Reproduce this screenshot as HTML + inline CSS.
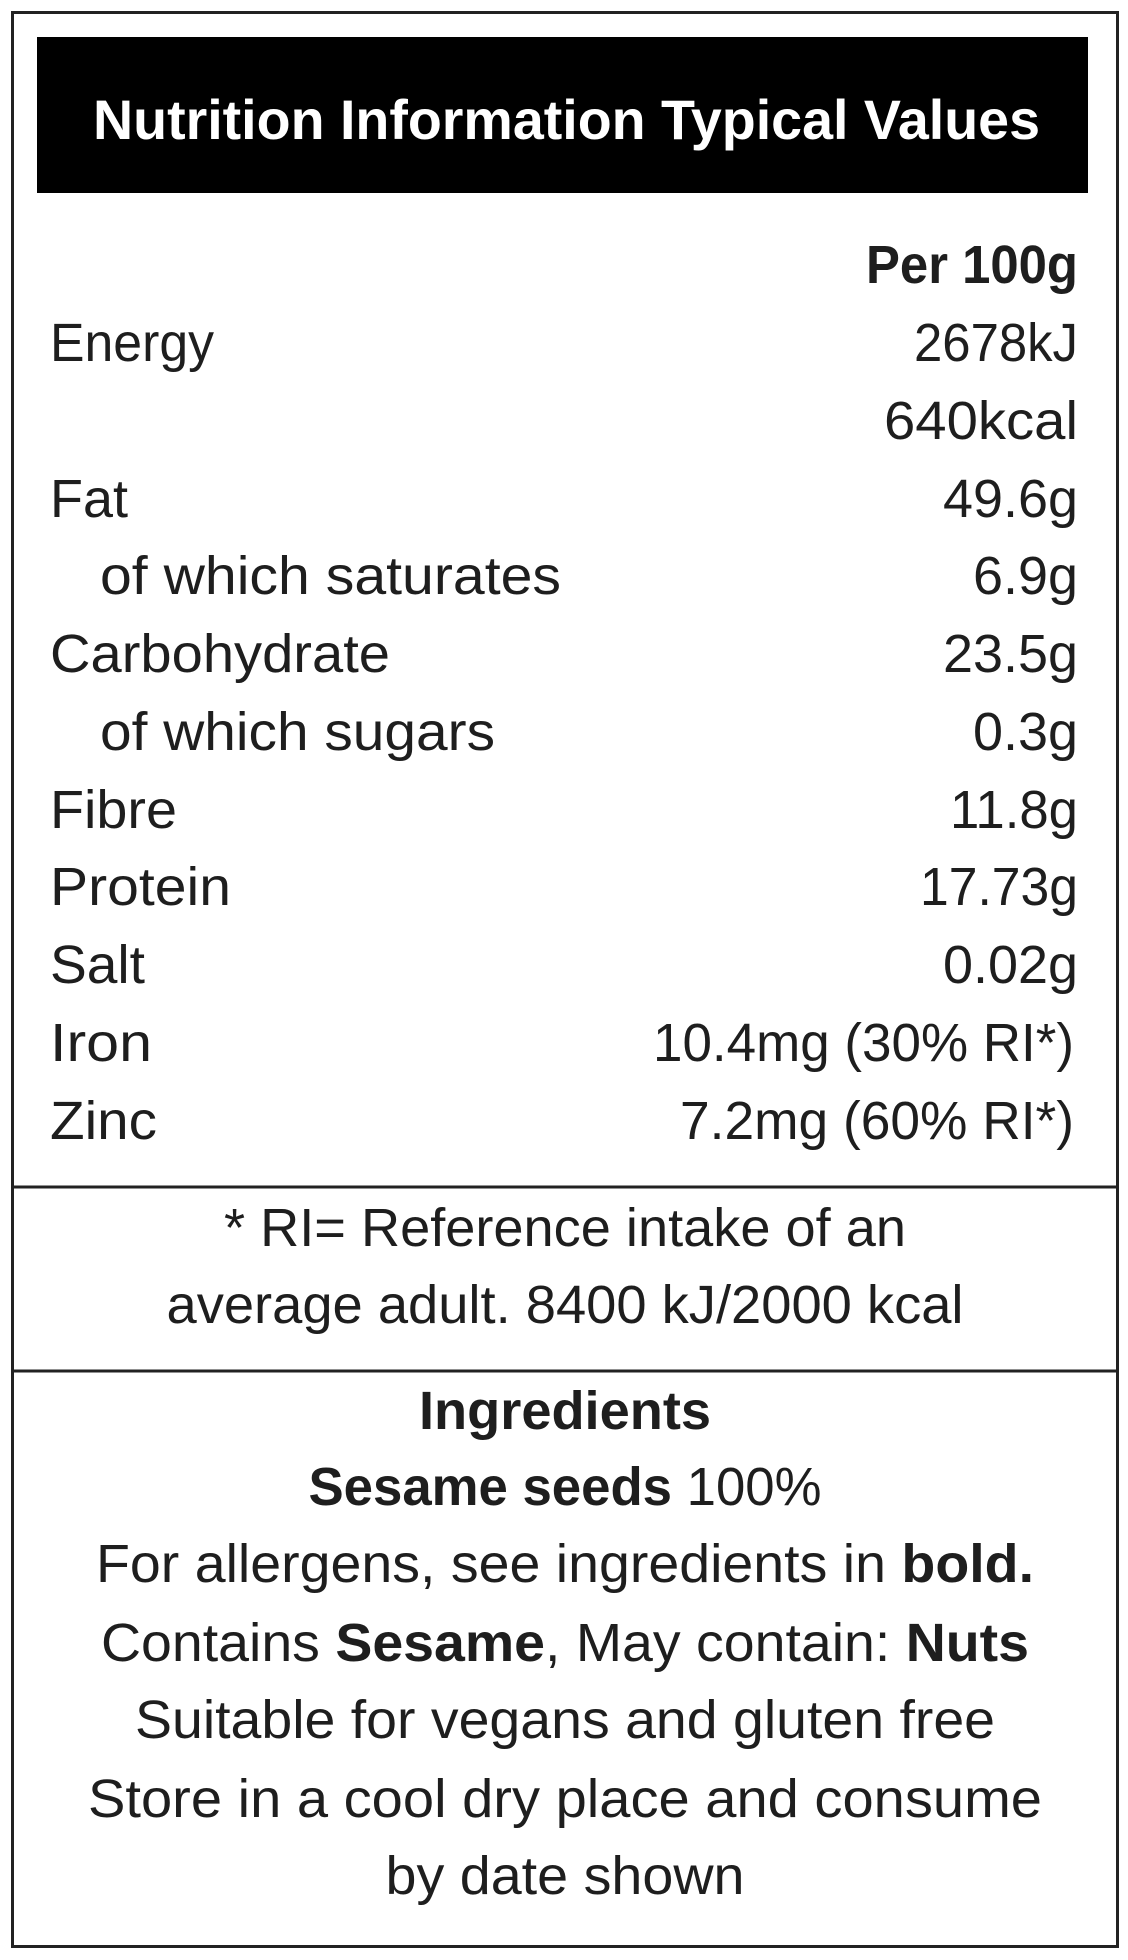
<!DOCTYPE html>
<html><head><meta charset="utf-8"><style>html,body{margin:0;padding:0;background:#fff}svg{display:block}</style></head><body>
<svg width="1128" height="1960" viewBox="0 0 1128 1960" xmlns="http://www.w3.org/2000/svg" font-family="Liberation Sans, sans-serif" fill="#1e1e1e">
<rect x="0" y="0" width="1128" height="1960" fill="#fff"/>
<rect x="12.5" y="12.5" width="1105" height="1934" fill="none" stroke="#222" stroke-width="3"/>
<rect x="37" y="37" width="1051" height="156" fill="#000"/>
<text x="93" y="139" font-size="56" font-weight="bold" fill="#fff" textLength="947" lengthAdjust="spacingAndGlyphs">Nutrition Information Typical Values</text>
<g font-size="54">
<text x="1078" y="283" text-anchor="end" font-weight="bold" textLength="212" lengthAdjust="spacingAndGlyphs">Per 100g</text>
<text x="50" y="361" textLength="164" lengthAdjust="spacingAndGlyphs">Energy</text>
<text x="1078" y="361" text-anchor="end" textLength="164" lengthAdjust="spacingAndGlyphs">2678kJ</text>
<text x="1078" y="439" text-anchor="end" textLength="194" lengthAdjust="spacingAndGlyphs">640kcal</text>
<text x="50" y="517" textLength="78" lengthAdjust="spacingAndGlyphs">Fat</text>
<text x="1078" y="517" text-anchor="end" textLength="135" lengthAdjust="spacingAndGlyphs">49.6g</text>
<text x="100" y="594" textLength="461" lengthAdjust="spacingAndGlyphs">of which saturates</text>
<text x="1078" y="594" text-anchor="end" textLength="105" lengthAdjust="spacingAndGlyphs">6.9g</text>
<text x="50" y="672" textLength="340" lengthAdjust="spacingAndGlyphs">Carbohydrate</text>
<text x="1078" y="672" text-anchor="end" textLength="135" lengthAdjust="spacingAndGlyphs">23.5g</text>
<text x="100" y="750" textLength="395" lengthAdjust="spacingAndGlyphs">of which sugars</text>
<text x="1078" y="750" text-anchor="end" textLength="105" lengthAdjust="spacingAndGlyphs">0.3g</text>
<text x="50" y="828" textLength="127" lengthAdjust="spacingAndGlyphs">Fibre</text>
<text x="1078" y="828" text-anchor="end" textLength="128" lengthAdjust="spacingAndGlyphs">11.8g</text>
<text x="50" y="905" textLength="181" lengthAdjust="spacingAndGlyphs">Protein</text>
<text x="1078" y="905" text-anchor="end" textLength="158" lengthAdjust="spacingAndGlyphs">17.73g</text>
<text x="50" y="983" textLength="95" lengthAdjust="spacingAndGlyphs">Salt</text>
<text x="1078" y="983" text-anchor="end" textLength="135" lengthAdjust="spacingAndGlyphs">0.02g</text>
<text x="50" y="1061" textLength="102" lengthAdjust="spacingAndGlyphs">Iron</text>
<text x="1074" y="1061" text-anchor="end" textLength="421" lengthAdjust="spacingAndGlyphs">10.4mg (30% RI*)</text>
<text x="50" y="1139" textLength="107" lengthAdjust="spacingAndGlyphs">Zinc</text>
<text x="1074" y="1139" text-anchor="end" textLength="394" lengthAdjust="spacingAndGlyphs">7.2mg (60% RI*)</text>
</g>
<line x1="12" y1="1187" x2="1118" y2="1187" stroke="#222" stroke-width="3"/>
<line x1="12" y1="1371" x2="1118" y2="1371" stroke="#222" stroke-width="3"/>
<g font-size="54" text-anchor="middle">
<text x="565" y="1246" textLength="682" lengthAdjust="spacingAndGlyphs">* RI= Reference intake of an</text>
<text x="565" y="1323" textLength="797" lengthAdjust="spacingAndGlyphs">average adult. 8400 kJ/2000 kcal</text>
<text x="565" y="1429" font-weight="bold" textLength="292" lengthAdjust="spacingAndGlyphs">Ingredients</text>
<text x="565" y="1505" textLength="513" lengthAdjust="spacingAndGlyphs"><tspan font-weight="bold">Sesame seeds</tspan> 100%</text>
<text x="565" y="1582" textLength="938" lengthAdjust="spacingAndGlyphs">For allergens, see ingredients in <tspan font-weight="bold">bold.</tspan></text>
<text x="565" y="1661" textLength="928" lengthAdjust="spacingAndGlyphs">Contains <tspan font-weight="bold">Sesame</tspan>, May contain: <tspan font-weight="bold">Nuts</tspan></text>
<text x="565" y="1738" textLength="860" lengthAdjust="spacingAndGlyphs">Suitable for vegans and gluten free</text>
<text x="565" y="1817" textLength="954" lengthAdjust="spacingAndGlyphs">Store in a cool dry place and consume</text>
<text x="565" y="1894" textLength="359" lengthAdjust="spacingAndGlyphs">by date shown</text>
</g>
</svg>
</body></html>
